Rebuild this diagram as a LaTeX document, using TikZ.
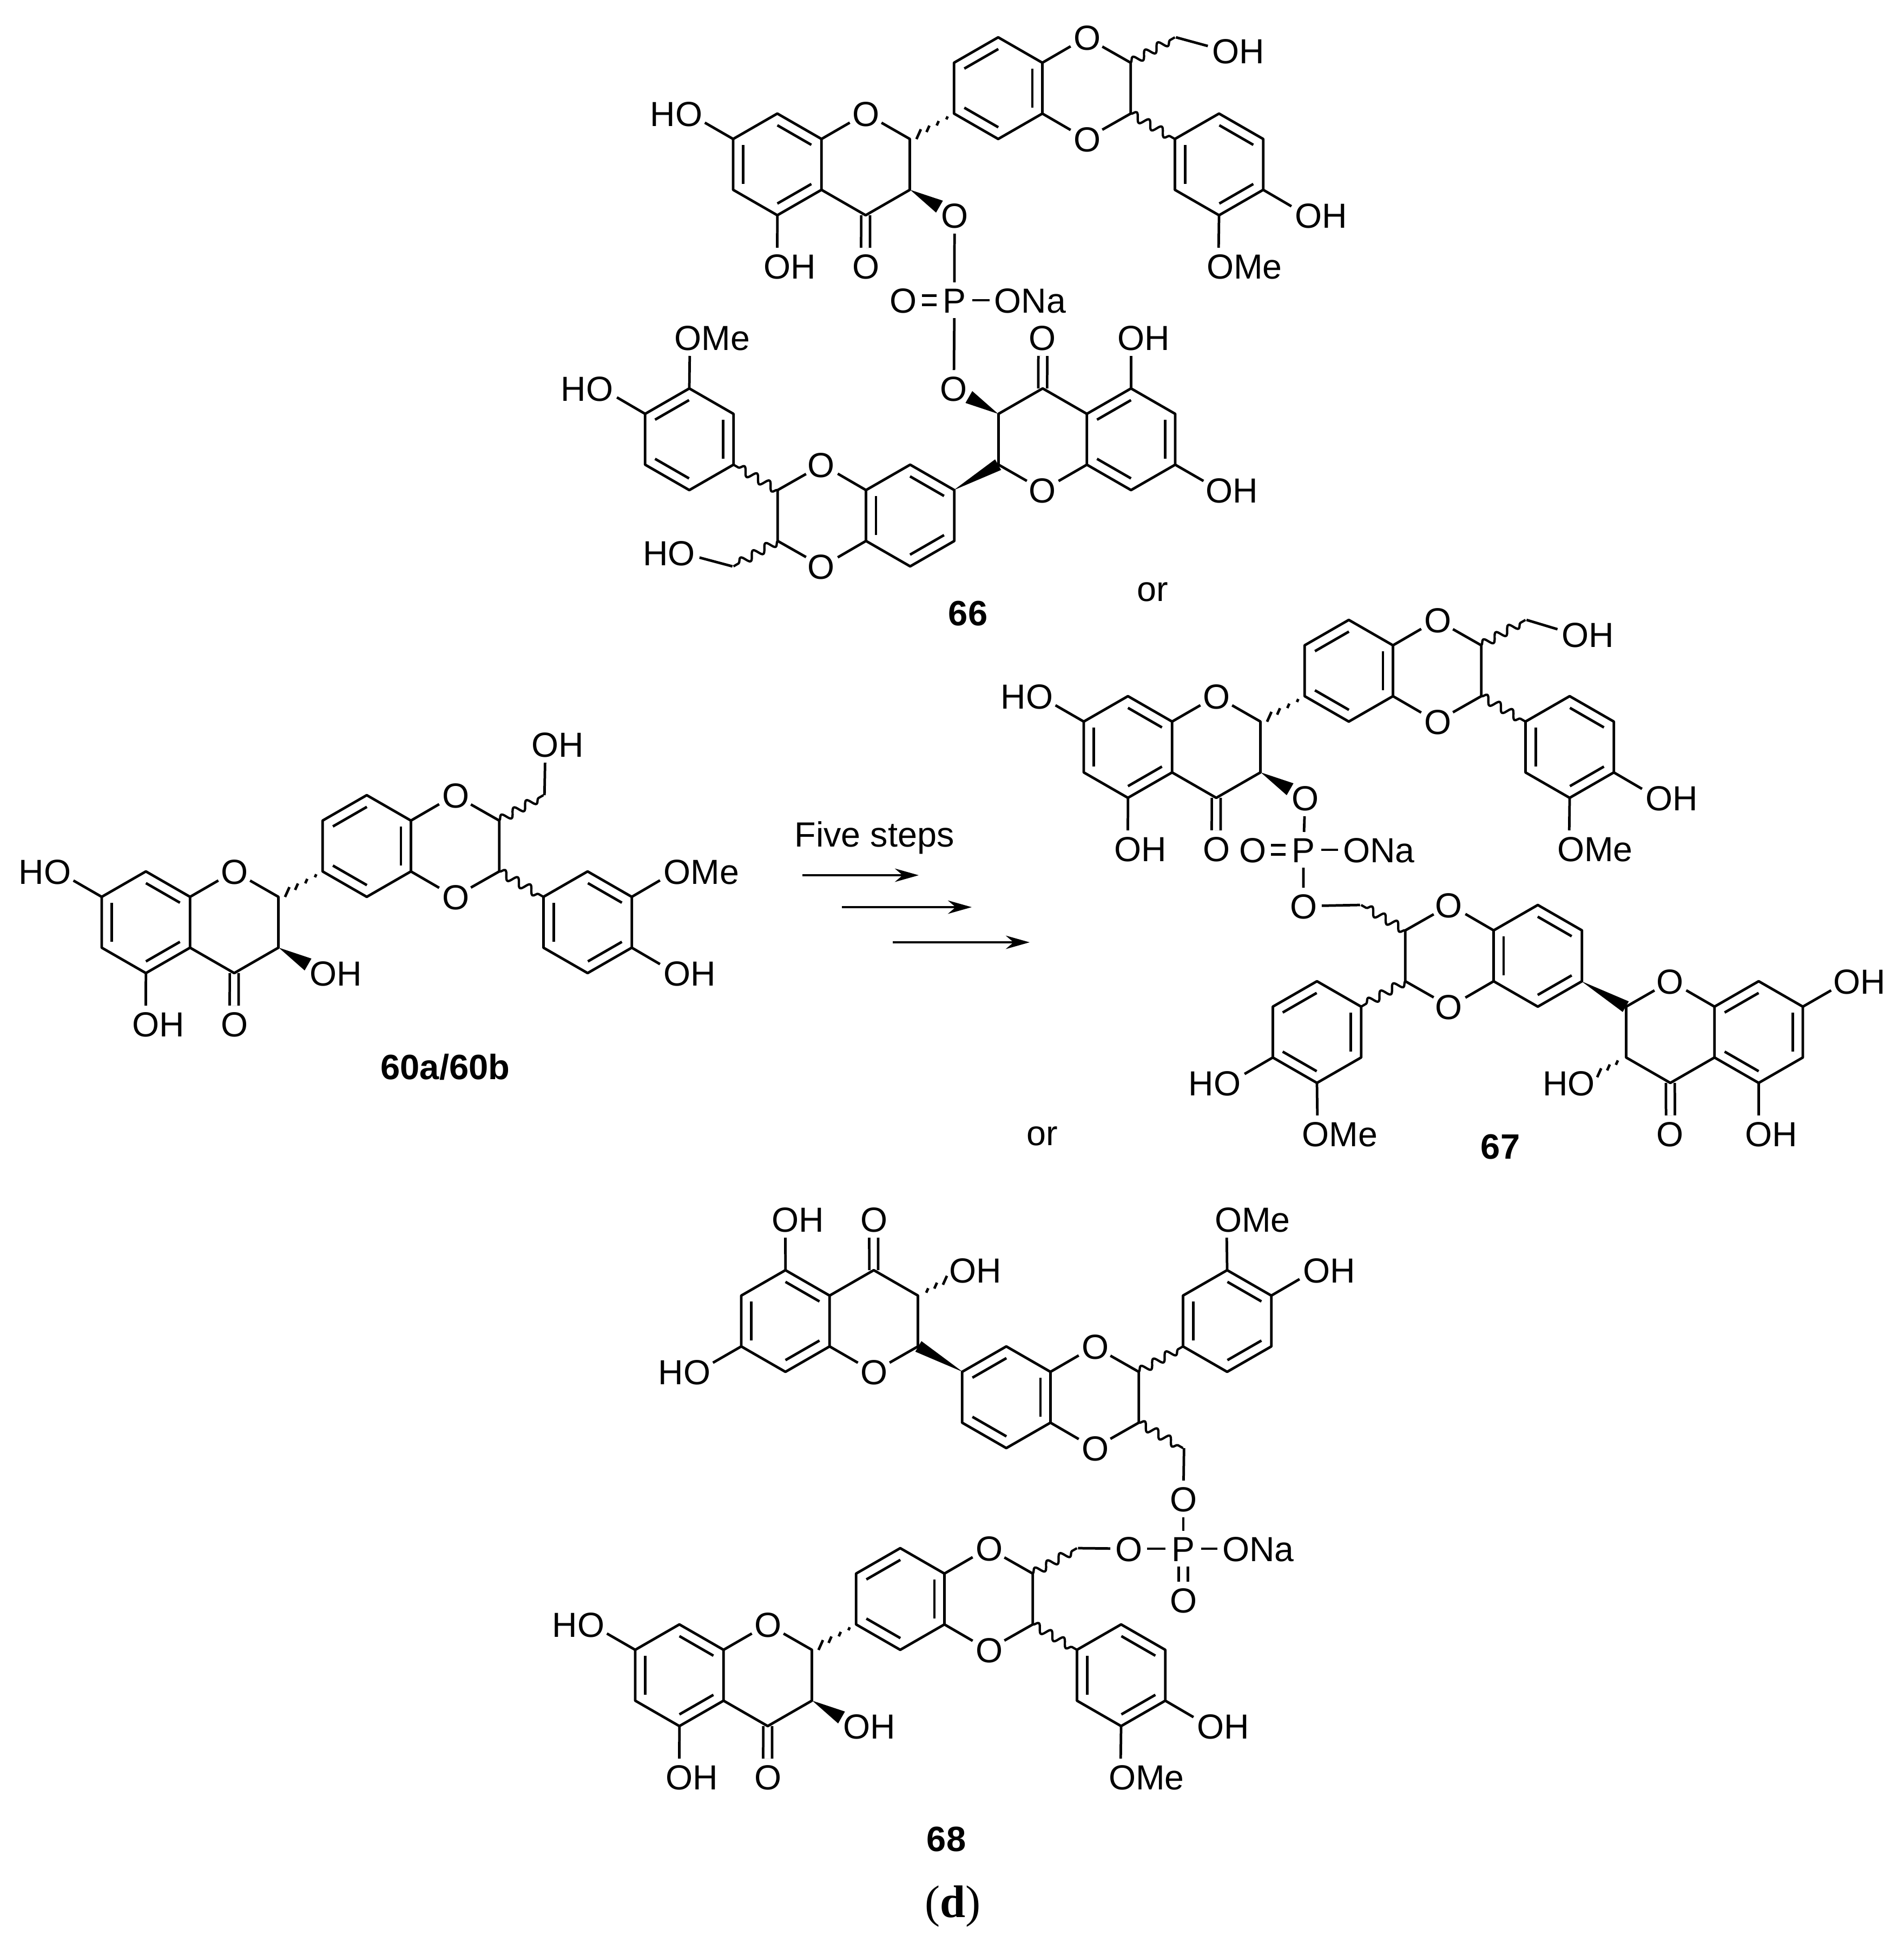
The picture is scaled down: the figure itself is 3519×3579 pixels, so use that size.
\documentclass[tikz,border=0pt]{standalone}
\usepackage{fontspec}
\setmainfont{Liberation Sans}
\newfontfamily\capfont{Liberation Serif}
\usetikzlibrary{calc,arrows.meta,decorations.pathmorphing}
\tikzset{
	bond/.style={line width=1.35pt,line join=round},
	wavy/.style={bond,line width=1.2pt,decorate,decoration={snake,segment length=7.6pt,amplitude=2.2pt}},
	dbl/.style={bond,double,double distance=3.3pt},
	atom/.style={font=\fontsize{18.3}{20}\selectfont,inner sep=0pt,outer sep=0pt,text height=13.1pt,text depth=0pt},
	oatom/.style={atom,shape=circle,minimum size=.66cm},
	tailr/.style={atom,anchor=west,xshift=7.1pt},
	taill/.style={atom,anchor=east,xshift=-7.1pt},
	cpd/.style={font=\fontsize{18.5}{20}\selectfont\bfseries},
	plain/.style={font=\fontsize{18.4}{20}\selectfont}
}
\newcommand{\flavcore}[7]{
	\begin{scope}[shift={(#2,#3)},xscale=#4*81.83,yscale=#5*47]
		\foreach \cn/\cu/\cv in {c7/0/4,c8/1/3,c8a/2/4,c4a/2/6,c5/1/7,c6/0/6,c2/4/4,c3/4/6,c4/3/7,
			b1/5/3,b2/5/1,b3/6/0,b4/7/1,b5/7/3,b6/6/4,d2/9/1,d3/9/3,ch2/10/0,
			r1/10/4,r2/10/6,r3/11/7,r4/12/6,r5/12/4,r6/11/3}
			\coordinate (#1\cn) at (\cu,\cv);
		\foreach \cn/\cu/\cv in {o1/3/3,d1/8/0,d4/8/4,co/3/9,oh5/1/9,oh7/-1/3,oh3/5/7,oh4/13/7,ome/#7}
			\node[oatom] (#1\cn) at (\cu,\cv) {O};
		\draw[dbl] (#1c4) -- (#1co);
		\draw[bond] (#1c7)--(#1c8)--(#1c8a)--(#1c4a)--(#1c5)--(#1c6)--cycle;
		\draw[bond] (#1c8a)--(#1o1)--(#1c2)--(#1c3)--(#1c4)--(#1c4a);
		\draw[bond] (#1b1)--(#1b2)--(#1b3)--(#1b4)--(#1b5)--(#1b6)--cycle;
		\draw[bond] (#1b4)--(#1d1)--(#1d2)--(#1d3)--(#1d4)--(#1b5);
		\draw[bond] (#1r1)--(#1r2)--(#1r3)--(#1r4)--(#1r5)--(#1r6)--cycle;
		\draw[wavy] (#1d3) -- (#1r1);
		\draw[wavy] (#1d2) -- (#1ch2);
		\draw[bond] (#1c7)--(#1oh7);
		\draw[bond] (#1c5)--(#1oh5);
		\draw[bond] (#1r4)--(#1oh4);
		\draw[bond] (#1#6)--(#1ome);
		\foreach \pa/\pb/\cx/\cy in {c8/c8a/1/5,c7/c6/1/5,c5/c4a/1/5,b2/b3/6/2,b4/b5/6/2,b1/b6/6/2,r6/r5/11/5,r1/r2/11/5,r3/r4/11/5}
			\draw[bond] ($(#1\pa)!.23!(\cx,\cy)$) -- ($(#1\pb)!.23!(\cx,\cy)$);
	\end{scope}
}
\newcommand{\wedgeb}[4]{
	\coordinate (wtmp) at ($(#1)!#3!(#2)$);
	\fill (#1) -- ($(wtmp)!#4!90:(#1)$) -- ($(wtmp)!#4!-90:(#1)$) -- cycle;
}
\newcommand{\hashb}[3]{
	\foreach \hp/\hl in {#3}
		\draw[bond] ($(#1)!\hp!(#2)$) ++(.41*\hl,-.91*\hl) -- ++(-.82*\hl,1.82*\hl);
}
\newcommand{\rtail}[2]{\node[tailr] (#1t) at (#1) {#2};}
\newcommand{\ltail}[2]{\node[taill] (#1t) at (#1) {#2};}
\begin{document}
\begin{tikzpicture}[x=.01cm,y=-.01cm,>={Stealth[length=12.5pt,width=7pt]}]
	\useasboundingbox[fill=white] (0,0) rectangle (3519,3579);

	\flavcore{a}{1355}{69}{1}{1}{r3}{11/9}
	\hashb{ab1}{ac2}{.17/3,.38/4.5,.6/6.5,.81/10}
	\wedgeb{ac3}{aoh3}{.66}{3.6pt}
	\node[oatom] (aoh) at (2265,94) {O};
	\draw[bond] (ach2) -- (aoh);
	\ltail{aoh7}{H} \rtail{aoh5}{H} \rtail{aoh4}{H} \rtail{aome}{Me} \rtail{aoh}{H}

	\node[oatom] (pa) at (1764,555) {P};
	\node[oatom] (pao) at (1670,555) {O};
	\node[oatom] (pan) at (1863,555) {O};
	\rtail{pan}{Na}
	\draw[dbl] (pao) -- (pa);
	\draw[bond] (pa) -- (pan);

	\flavcore{b}{2172}{1047}{-1}{-1}{r3}{11/9}
	\wedgeb{bb1}{bc2}{1}{3.2pt}
	\wedgeb{bc3}{boh3}{.66}{3.6pt}
	\node[oatom] (boh) at (1260,1022) {O};
	\draw[bond] (bch2) -- (boh);
	\rtail{boh7}{H} \rtail{boh5}{H} \ltail{boh4}{H} \rtail{bome}{Me} \ltail{boh}{H}
	\draw[bond] (aoh3) -- (pa) -- (boh3);
	\node[cpd] (lab66) at (1789,1134) {66};
	\node[plain,anchor=base] (orone) at (2130,1111) {or};

	\flavcore{c}{188}{1470}{1}{1}{r5}{13/3}
	\hashb{cb1}{cc2}{.17/3,.38/4.5,.6/6.5,.81/10}
	\wedgeb{cc3}{coh3}{.66}{3.6pt}
	\node[oatom] (coh) at (1008,1376) {O};
	\draw[bond] (cch2) -- (coh);
	\ltail{coh7}{H} \rtail{coh5}{H} \rtail{coh3}{H} \rtail{coh4}{H} \rtail{come}{Me} \rtail{coh}{H}
	\node[cpd] (lab60) at (823,1973) {60a/60b};

	\node[plain] (steps) at (1616,1549) {Five steps};
	\coordinate (sa) at (1483,1618);
	\coordinate (sb) at (1698,1618);
	\coordinate (sc) at (1556,1677);
	\coordinate (sd) at (1796,1677);
	\coordinate (se) at (1650,1742);
	\coordinate (sf) at (1903,1742);
	\draw[bond,->] (sa) -- (sb);
	\draw[bond,->] (sc) -- (sd);
	\draw[bond,->] (se) -- (sf);

	\flavcore{d}{2003}{1146}{1}{1}{r3}{11/9}
	\hashb{db1}{dc2}{.17/3,.38/4.5,.6/6.5,.81/10}
	\wedgeb{dc3}{doh3}{.66}{3.6pt}
	\node[oatom] (doh) at (2911,1173) {O};
	\draw[bond] (dch2) -- (doh);
	\ltail{doh7}{H} \rtail{doh5}{H} \rtail{doh4}{H} \rtail{dome}{Me} \rtail{doh}{H}

	\flavcore{e}{3332}{1673}{-1}{1}{r3}{11/9}
	\wedgeb{eb1}{ec2}{1}{3.2pt}
	\hashb{ec3}{eoh3}{.2/4.5,.39/6,.6/9}
	\node[oatom] (eo) at (2409,1675) {O};
	\draw[bond] (ech2) -- (eo);
	\rtail{eoh7}{H} \rtail{eoh5}{H} \ltail{eoh3}{H} \ltail{eoh4}{H} \rtail{eome}{Me}

	\node[oatom] (pd) at (2409,1571) {P};
	\node[oatom] (pdo) at (2315,1571) {O};
	\node[oatom] (pdn) at (2507,1571) {O};
	\rtail{pdn}{Na}
	\draw[dbl] (pdo) -- (pd);
	\draw[bond] (pd) -- (pdn);
	\draw[bond] (doh3) -- (pd) -- (eo);
	\node[plain,anchor=base] (ortwo) at (1926,2117) {or};
	\node[cpd] (lab67) at (2773,2120) {67};

	\flavcore{f}{1370}{2677}{1}{-1}{r3}{11/9}
	\wedgeb{fb1}{fc2}{1}{3.2pt}
	\hashb{fc3}{foh3}{.2/4.5,.39/6,.6/9}
	\node[oatom] (foh) at (2187,2771) {O};
	\draw[bond] (fch2) -- (foh);
	\ltail{foh7}{H} \rtail{foh5}{H} \rtail{foh3}{H} \rtail{foh4}{H} \rtail{fome}{Me}

	\flavcore{g}{1174}{2862}{1}{1}{r3}{11/9}
	\hashb{gb1}{gc2}{.17/3,.38/4.5,.6/6.5,.81/10}
	\wedgeb{gc3}{goh3}{.66}{3.6pt}
	\node[oatom] (goh) at (2086,2863) {O};
	\draw[bond] (gch2) -- (goh);
	\ltail{goh7}{H} \rtail{goh5}{H} \rtail{goh3}{H} \rtail{goh4}{H} \rtail{gome}{Me}

	\node[oatom] (pg) at (2187,2863) {P};
	\node[oatom] (pgo) at (2187,2958) {O};
	\node[oatom] (pgn) at (2284,2863) {O};
	\rtail{pgn}{Na}
	\draw[dbl] (pg) -- (pgo);
	\draw[bond] (foh) -- (pg) -- (pgn);
	\draw[bond] (goh) -- (pg);
	\node[cpd] (lab68) at (1749,3400) {68};
	\node[font=\capfont\fontsize{24}{26}\selectfont] (part) at (1761,3524) {(\textbf{d})};
\end{tikzpicture}
\end{document}
